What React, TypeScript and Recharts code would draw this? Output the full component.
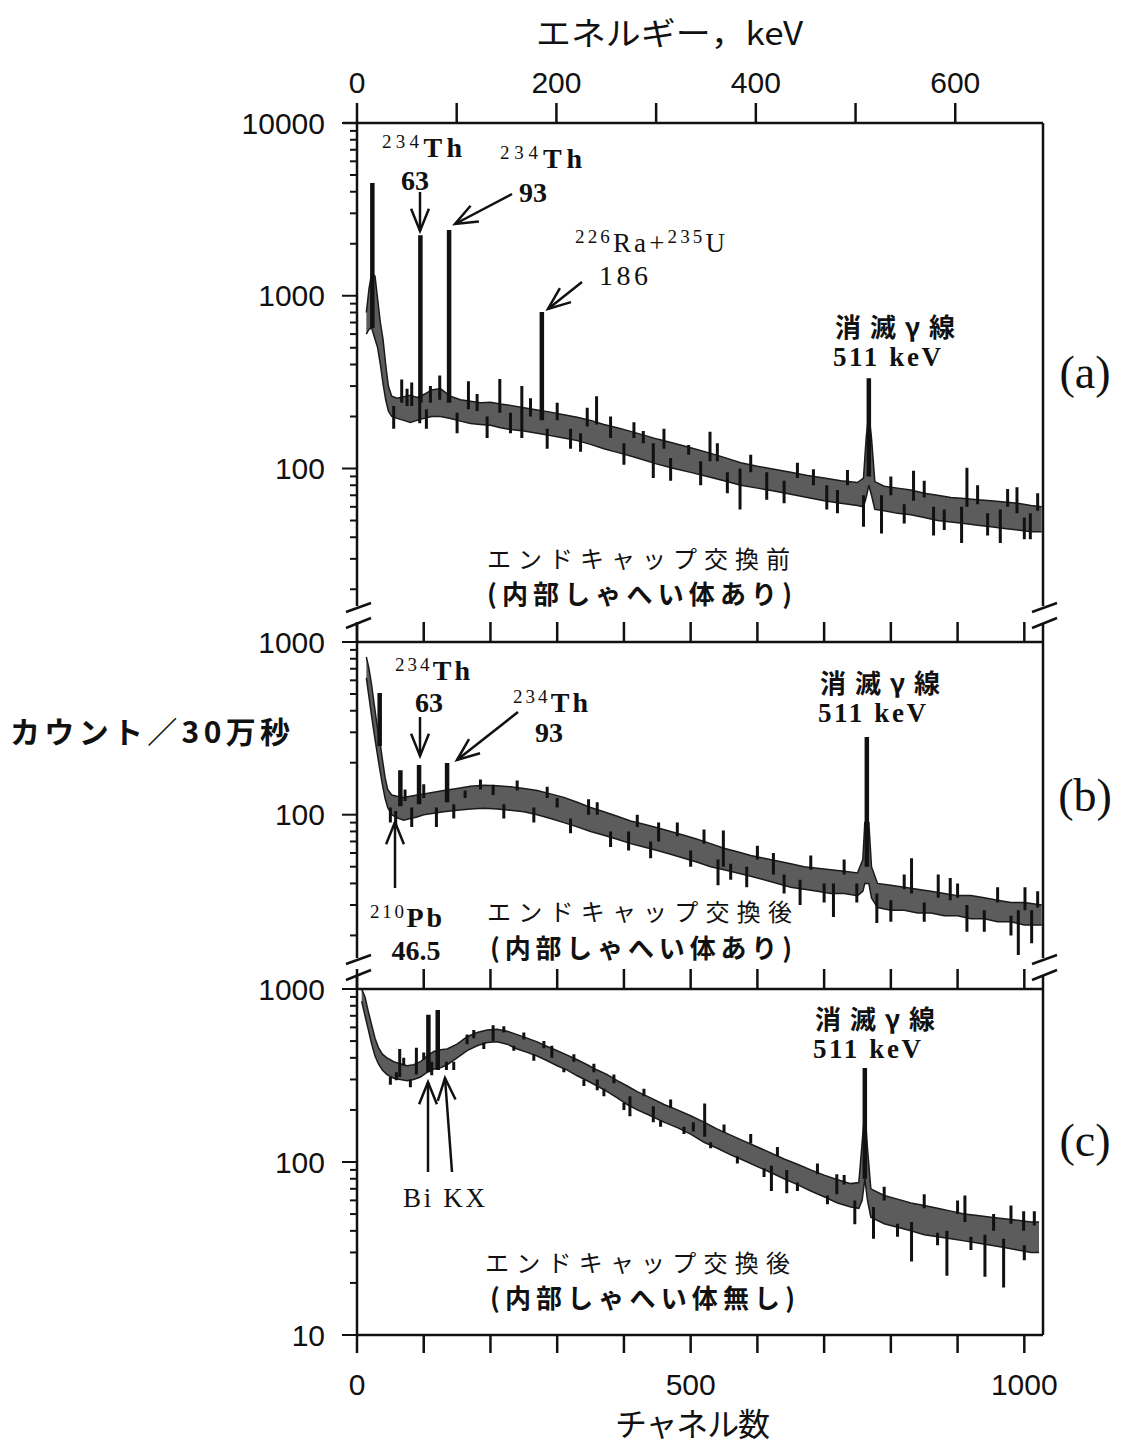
import React from "react";
import { Area, ComposedChart, Line, XAxis, YAxis } from "recharts";

const NUM_FONT = "'Liberation Sans', Arial, sans-serif";
const SERIF = "'Liberation Serif', 'Noto Sans CJK JP', serif";
const JP = "'Noto Sans CJK JP', sans-serif";
const INK = "#111";
const W = 1139;

// axis ticks
const channelTicks = [0, 100, 200, 300, 400, 500, 600, 700, 800, 900, 1000];
const channelLabels = [0, 500, 1000];
const energyTicks = [0, 100, 200, 300, 400, 500, 600];
const energyLabels = [0, 200, 400, 600];
const ticksA = [20, 30, 40, 50, 60, 70, 80, 90, 100, 200, 300, 400, 500, 600, 700, 800, 900, 1000, 2000, 3000, 4000, 5000, 6000, 7000, 8000, 9000, 10000];
const ticksB = [20, 30, 40, 50, 60, 70, 80, 90, 100, 200, 300, 400, 500, 600, 700, 800, 900, 1000];
const ticksC = [10, 20, 30, 40, 50, 60, 70, 80, 90, 100, 200, 300, 400, 500, 600, 700, 800, 900, 1000];

// (a) before end-cap exchange: [channel, low, high] of the noisy band
const bandA = [
  [14, 600, 800], [18, 640, 1100], [22, 650, 1350], [27, 560, 1300], [31, 500, 950],
  [35, 400, 700], [39, 310, 560], [43, 250, 400], [47, 215, 300], [52, 200, 262],
  [60, 195, 255], [70, 190, 260], [80, 185, 265], [90, 190, 258], [100, 195, 268],
  [112, 200, 285], [125, 200, 290], [140, 195, 262], [155, 188, 250], [170, 182, 245],
  [185, 180, 240], [200, 178, 242], [215, 172, 236], [230, 168, 232], [250, 165, 225],
  [270, 160, 218], [290, 155, 212], [310, 150, 205], [330, 145, 198], [350, 138, 190],
  [370, 130, 180], [390, 124, 172], [410, 118, 164], [430, 112, 156], [450, 106, 148],
  [475, 100, 140], [500, 95, 132], [525, 90, 124], [550, 85, 116], [575, 80, 108],
  [600, 77, 103], [625, 74, 99], [650, 71, 95], [675, 68, 91], [700, 65, 88],
  [725, 63, 85], [750, 61, 83], [759, 60, 88], [763, 68, 150], [767, 80, 210],
  [771, 70, 150], [776, 58, 84], [790, 57, 79], [810, 55, 77], [830, 54, 75],
  [850, 52, 72], [870, 50, 70], [890, 49, 68], [910, 48, 67], [930, 47, 66],
  [950, 46, 65], [970, 45, 64], [990, 44, 63], [1010, 43, 61], [1026, 43, 60],
];
const peaksA = [[23, 650, 4500], [95, 240, 2240], [138, 240, 2400], [277, 190, 805], [767, 90, 333]];
const spikesA = [
  [67, 240, 328], [82, 230, 315], [124, 250, 345], [167, 220, 320], [214, 210, 330],
  [247, 150, 300], [359, 180, 262], [429, 140, 165], [497, 120, 137], [529, 110, 163],
  [684, 80, 99], [834, 65, 97], [914, 60, 101], [989, 55, 78],
  [94, 183, 240], [230, 160, 210], [320, 130, 170], [444, 88, 140], [574, 58, 100],
  [614, 66, 95], [704, 58, 80], [759, 46, 70], [786, 42, 70], [864, 41, 60],
  [906, 37, 60], [964, 37, 58], [1009, 39, 55],
  [55, 170, 230], [75, 230, 290], [104, 170, 220], [110, 240, 300], [150, 160, 210],
  [180, 215, 270], [195, 150, 200], [260, 200, 255], [285, 130, 170], [300, 190, 240],
  [335, 125, 160], [345, 175, 225], [380, 150, 200], [400, 105, 140], [415, 150, 185],
  [460, 130, 170], [470, 85, 115], [515, 80, 110], [540, 110, 140], [555, 72, 95],
  [590, 95, 120], [640, 63, 85], [660, 88, 108], [720, 55, 75], [735, 80, 98],
  [800, 70, 90], [820, 48, 62], [850, 68, 85], [880, 44, 58], [930, 62, 80],
  [945, 41, 55], [975, 60, 76], [1000, 39, 52], [1020, 57, 72],
];

// (b) after exchange, inner shield present
const bandB = [
  [14, 620, 820], [18, 480, 700], [22, 370, 560], [26, 290, 430], [30, 230, 330],
  [34, 185, 270], [38, 150, 210], [42, 125, 165], [46, 110, 140], [52, 100, 130],
  [60, 96, 128], [70, 93, 126], [80, 95, 128], [90, 97, 130], [100, 100, 132],
  [115, 102, 135], [130, 104, 138], [150, 106, 142], [170, 108, 146], [190, 109, 148],
  [210, 108, 147], [230, 106, 145], [250, 104, 142], [270, 100, 138], [290, 95, 132],
  [310, 90, 126], [330, 85, 118], [350, 80, 110], [370, 76, 104], [390, 72, 98],
  [410, 68, 92], [430, 65, 88], [450, 62, 84], [470, 59, 80], [490, 56, 76],
  [510, 53, 72], [530, 50, 68], [550, 48, 64], [570, 46, 61], [590, 44, 58],
  [610, 42, 56], [630, 40, 54], [650, 38, 52], [670, 37, 50], [690, 36, 49],
  [710, 35, 48], [730, 35, 47], [750, 34, 46], [758, 36, 55], [761, 40, 90],
  [767, 40, 90], [771, 33, 50], [780, 29, 40], [800, 28, 39], [820, 28, 38],
  [840, 27, 37], [860, 27, 36], [880, 26, 35], [900, 26, 34], [920, 25, 34],
  [940, 25, 33], [960, 24, 32], [980, 24, 31], [1000, 23, 31], [1026, 23, 30],
];
const peaksB = [[34, 250, 507], [65, 112, 181], [93, 115, 194], [135, 118, 199], [764, 50, 282]];
const spikesB = [
  [162, 125, 138], [204, 130, 149], [300, 110, 125], [347, 100, 123], [452, 70, 90],
  [549, 50, 81], [624, 45, 60], [831, 35, 56], [871, 33, 45], [889, 32, 43], [1001, 28, 38],
  [50, 90, 110], [82, 85, 110], [119, 85, 110], [407, 62, 80], [541, 39, 55],
  [584, 38, 50], [664, 30, 42], [714, 25.6, 40], [749, 31, 40], [779, 23.6, 35],
  [914, 21, 30], [991, 15.4, 28], [1011, 18, 28],
  [58, 85, 105], [72, 120, 140], [100, 125, 150], [145, 95, 115], [185, 140, 160],
  [220, 95, 115], [240, 138, 158], [265, 90, 110], [285, 125, 145], [320, 78, 95],
  [360, 100, 118], [380, 65, 80], [420, 85, 100], [440, 56, 70], [480, 75, 90],
  [500, 50, 62], [520, 68, 82], [560, 42, 52], [600, 55, 66], [640, 35, 45],
  [680, 48, 58], [700, 31, 40], [730, 45, 55], [800, 24, 32], [820, 37, 45],
  [850, 24, 31], [900, 33, 40], [940, 21, 28], [960, 31, 38], [980, 20, 26], [1020, 29, 36],
];

// (c) after exchange, no inner shield
const bandC = [
  [7, 850, 1000], [12, 700, 900], [17, 580, 740], [22, 480, 620], [27, 410, 520],
  [32, 370, 460], [38, 340, 420], [45, 320, 400], [55, 305, 380], [65, 300, 370],
  [75, 295, 360], [85, 300, 365], [95, 310, 380], [105, 330, 410], [115, 345, 435],
  [125, 350, 445], [135, 365, 450], [150, 400, 480], [165, 440, 530], [180, 470, 560],
  [195, 490, 580], [210, 495, 585], [225, 480, 570], [240, 450, 545], [255, 430, 520],
  [270, 410, 495], [285, 385, 465], [300, 360, 440], [315, 340, 415], [330, 315, 390],
  [345, 295, 365], [360, 275, 340], [375, 255, 320], [390, 235, 295], [405, 215, 275],
  [420, 200, 255], [440, 185, 235], [460, 170, 215], [480, 158, 200], [500, 145, 185],
  [520, 130, 170], [540, 120, 155], [560, 110, 143], [580, 102, 132], [600, 94, 122],
  [620, 87, 113], [640, 80, 104], [660, 74, 97], [680, 68, 90], [700, 63, 84],
  [720, 58, 79], [740, 55, 75], [752, 54, 76], [757, 60, 130], [761, 80, 200],
  [765, 60, 120], [770, 48, 70], [790, 44, 64], [810, 42, 61], [830, 40, 58],
  [850, 38, 56], [870, 37, 54], [890, 36, 52], [910, 35, 50], [930, 34, 49],
  [950, 33, 48], [970, 32, 47], [990, 31, 46], [1010, 30, 45], [1022, 30, 45],
];
const peaksC = [[107, 330, 710], [121, 340, 755], [761, 80, 349]];
const spikesC = [
  [64, 310, 450], [89, 320, 458], [165, 480, 545], [204, 500, 618], [292, 400, 470],
  [521, 140, 218], [719, 65, 85], [911, 45, 64], [954, 40, 50], [999, 40, 52],
  [59, 297, 330], [112, 317, 380], [134, 340, 380], [360, 260, 300], [409, 184, 240],
  [444, 170, 210], [504, 150, 170], [621, 68, 95], [644, 66, 90], [746, 43.6, 60],
  [774, 36, 55], [831, 26.6, 45], [884, 22, 40], [941, 21.7, 38], [969, 18.8, 36],
  [50, 280, 310], [70, 360, 400], [80, 270, 300], [100, 390, 430], [145, 340, 380],
  [175, 520, 580], [190, 450, 490], [220, 560, 610], [235, 440, 470], [250, 510, 560],
  [265, 385, 420], [280, 455, 500], [310, 330, 350], [325, 380, 420], [340, 275, 300],
  [355, 330, 370], [370, 240, 265], [385, 285, 320], [400, 200, 220], [430, 240, 265],
  [455, 160, 175], [470, 205, 230], [490, 145, 160], [530, 120, 130], [550, 148, 165],
  [570, 98, 108], [590, 128, 145], [610, 82, 92], [630, 108, 122], [660, 68, 76],
  [690, 85, 98], [705, 57, 64], [730, 74, 84], [790, 60, 72], [810, 37, 44],
  [850, 54, 65], [870, 33, 39], [900, 50, 60], [920, 31, 37], [980, 44, 56],
  [1000, 27, 33], [1015, 43, 52],
];

const toBand = (rows: number[][]) => rows.map(([ch, lo, hi]) => ({ ch, band: [lo, hi] }));
const toSticks = (rows: number[][]) =>
  rows.flatMap(([ch, lo, hi]) => [{ ch, v: lo }, { ch, v: hi }, { ch, v: null }]);

function YTick(props: any) {
  const { x, y, payload } = props;
  const v = payload.value;
  const lg = Math.log10(v);
  const major = Math.abs(lg - Math.round(lg)) < 1e-6;
  return (
    <g>
      <line x1={x - (major ? 15 : 7)} x2={x} y1={y} y2={y} stroke={INK} strokeWidth={2} />
      {major && (
        <text x={x - 32} y={y} textAnchor="end" dominantBaseline="central" fontSize={30} fontFamily={NUM_FONT} fill={INK}>
          {v}
        </text>
      )}
    </g>
  );
}

const axisStroke = { stroke: INK, strokeWidth: 2.5 };

interface PanelProps {
  top: number;
  height: number;
  mTop: number;
  mBottom: number;
  domain: [number, number];
  yTicks: number[];
  band: number[][];
  peaks: number[][];
  spikes: number[][];
  topAxis: "keV" | "ch";
  bottomAxis?: boolean;
}

// axes need a size of at least 1px to be drawn, so margins are 1px smaller
function Panel({ top, height, mTop, mBottom, domain, yTicks, band, peaks, spikes, topAxis, bottomAxis }: PanelProps) {
  return (
    <div style={{ position: "absolute", left: 0, top, width: W, height }}>
      <ComposedChart
        width={W}
        height={height}
        data={toBand(band)}
        margin={{ top: mTop - 1, right: 95, bottom: bottomAxis ? mBottom - 1 : mBottom, left: 356 }}
      >
        <XAxis xAxisId="ch" type="number" dataKey="ch" domain={[0, 1028]} allowDataOverflow hide />
        {topAxis === "keV" ? (
          <XAxis
            xAxisId="top"
            orientation="top"
            type="number"
            dataKey="ch"
            domain={[0, 688]}
            allowDataOverflow
            ticks={energyTicks}
            interval={0}
            height={1}
            tickSize={20}
            tickMargin={10}
            tickFormatter={(v: number) => (energyLabels.includes(v) ? String(v) : "")}
            tick={{ fontSize: 30, fill: INK, fontFamily: NUM_FONT }}
            axisLine={axisStroke}
            tickLine={axisStroke}
          />
        ) : (
          <XAxis
            xAxisId="top"
            orientation="top"
            type="number"
            dataKey="ch"
            domain={[0, 1028]}
            allowDataOverflow
            ticks={channelTicks}
            interval={0}
            height={1}
            tickSize={20}
            tickFormatter={() => ""}
            axisLine={axisStroke}
            tickLine={axisStroke}
          />
        )}
        {bottomAxis && (
          <XAxis
            xAxisId="bottom"
            orientation="bottom"
            type="number"
            dataKey="ch"
            domain={[0, 1028]}
            allowDataOverflow
            ticks={channelTicks}
            interval={0}
            height={1}
            tickSize={18}
            tickMargin={21}
            tickFormatter={(v: number) => (channelLabels.includes(v) ? String(v) : "")}
            tick={{ fontSize: 30, fill: INK, fontFamily: NUM_FONT }}
            axisLine={axisStroke}
            tickLine={axisStroke}
          />
        )}
        <YAxis
          yAxisId="l"
          scale="log"
          type="number"
          domain={domain}
          allowDataOverflow
          ticks={yTicks}
          interval={0}
          width={1}
          tickSize={0}
          tickMargin={0}
          tickLine={false}
          tick={<YTick />}
          axisLine={axisStroke}
        />
        <YAxis
          yAxisId="r"
          orientation="right"
          scale="log"
          type="number"
          domain={domain}
          allowDataOverflow
          width={1}
          tick={false}
          tickLine={false}
          axisLine={axisStroke}
        />
        <Area
          xAxisId="ch"
          yAxisId="l"
          dataKey="band"
          type="linear"
          fill="#5c5c5c"
          fillOpacity={1}
          stroke="#1a1a1a"
          strokeWidth={1.5}
          isAnimationActive={false}
        />
        <Line
          xAxisId="ch"
          yAxisId="l"
          data={toSticks(spikes)}
          dataKey="v"
          stroke={INK}
          strokeWidth={3}
          dot={false}
          connectNulls={false}
          isAnimationActive={false}
        />
        <Line
          xAxisId="ch"
          yAxisId="l"
          data={toSticks(peaks)}
          dataKey="v"
          stroke={INK}
          strokeWidth={4.5}
          dot={false}
          connectNulls={false}
          isAnimationActive={false}
        />
      </ComposedChart>
    </div>
  );
}

function Arrow({ x1, y1, x2, y2 }: { x1: number; y1: number; x2: number; y2: number }) {
  const a = Math.atan2(y2 - y1, x2 - x1);
  const L = 24;
  const s = 0.38;
  return (
    <g stroke={INK} strokeWidth={2.5} fill="none">
      <line x1={x1} y1={y1} x2={x2} y2={y2} />
      <polyline
        points={`${x2 - L * Math.cos(a - s)},${y2 - L * Math.sin(a - s)} ${x2},${y2} ${x2 - L * Math.cos(a + s)},${y2 - L * Math.sin(a + s)}`}
      />
    </g>
  );
}

function BreakMark({ x, y, next }: { x: number; y: number; next: number }) {
  return (
    <g stroke={INK} strokeWidth={2.5}>
      <line x1={x - 11} y1={y + 6} x2={x + 14} y2={y - 3} />
      <line x1={x - 11} y1={y + 22} x2={x + 14} y2={y + 12} />
      <line x1={x} y1={y + 17} x2={x} y2={next} />
    </g>
  );
}

function Iso({ x, y, mass, sym, len }: { x: number; y: number; mass: string; sym: string; len: number }) {
  return (
    <text x={x} y={y} fontFamily={SERIF} fill={INK} textLength={len} lengthAdjust="spacing">
      <tspan fontSize={19} dy={-9}>{mass}</tspan>
      <tspan fontSize={28} dy={9} fontWeight={700}>{sym}</tspan>
    </text>
  );
}

function Annihilation({ x, y }: { x: number; y: number }) {
  return (
    <g fill={INK}>
      <text x={x} y={y} fontFamily={JP} fontSize={26} fontWeight={700} textLength={120} lengthAdjust="spacing">消滅γ線</text>
      <text x={x - 2} y={y + 29} fontFamily={SERIF} fontSize={27} fontWeight={700} textLength={108} lengthAdjust="spacing">511 keV</text>
    </g>
  );
}

function Overlay() {
  return (
    <svg width={W} height={1447} style={{ position: "absolute", left: 0, top: 0, pointerEvents: "none" }}>
      <line x1={343} y1={123} x2={357} y2={123} stroke={INK} strokeWidth={2.5} />
      <BreakMark x={357} y={606} next={642} />
      <BreakMark x={1043} y={606} next={642} />
      <BreakMark x={357} y={958} next={989} />
      <BreakMark x={1043} y={958} next={989} />

      <text x={536} y={45} fontFamily={JP} fontSize={32} fill={INK} textLength={267} lengthAdjust="spacingAndGlyphs">エネルギー，keV</text>
      <text x={10} y={743} fontFamily={JP} fontSize={30} fontWeight={700} fill={INK} textLength={280} lengthAdjust="spacing">カウント／30万秒</text>
      <text x={615} y={1436} fontFamily={SERIF} fontSize={32} fill={INK} textLength={155} lengthAdjust="spacing">チャネル数</text>

      <g fontFamily={SERIF} fontSize={46} fill={INK} textAnchor="middle" dominantBaseline="central">
        <text x={1085} y={372}>(a)</text>
        <text x={1085} y={795}>(b)</text>
        <text x={1085} y={1140}>(c)</text>
      </g>

      {/* (a) */}
      <Iso x={382} y={157} mass="234" sym="Th" len={80} />
      <text x={415} y={190} textAnchor="middle" fontFamily={SERIF} fontSize={28} fontWeight={700} fill={INK}>63</text>
      <Arrow x1={420} y1={192} x2={420} y2={231} />
      <Iso x={500} y={168} mass="234" sym="Th" len={82} />
      <text x={533} y={202} textAnchor="middle" fontFamily={SERIF} fontSize={28} fontWeight={700} fill={INK}>93</text>
      <Arrow x1={512} y1={194} x2={455} y2={224} />
      <text x={575} y={252} fontFamily={SERIF} fill={INK} textLength={150} lengthAdjust="spacing">
        <tspan fontSize={19} dy={-9}>226</tspan>
        <tspan fontSize={27} dy={9}>Ra+</tspan>
        <tspan fontSize={19} dy={-9}>235</tspan>
        <tspan fontSize={27} dy={9}>U</tspan>
      </text>
      <text x={599} y={285} fontFamily={SERIF} fontSize={28} fill={INK} textLength={49} lengthAdjust="spacing">186</text>
      <Arrow x1={582} y1={282} x2={548} y2={309} />
      <Annihilation x={835} y={337} />
      <text x={487} y={568} fontFamily={JP} fontSize={24} fill={INK} textLength={303} lengthAdjust="spacing">エンドキャップ交換前</text>
      <text x={487} y={604} fontFamily={JP} fontSize={26} fontWeight={700} fill={INK} textLength={305} lengthAdjust="spacing">(内部しゃへい体あり)</text>

      {/* (b) */}
      <Iso x={395} y={680} mass="234" sym="Th" len={75} />
      <text x={429} y={712} textAnchor="middle" fontFamily={SERIF} fontSize={28} fontWeight={700} fill={INK}>63</text>
      <Arrow x1={420} y1={717} x2={420} y2={756} />
      <Iso x={513} y={712} mass="234" sym="Th" len={75} />
      <text x={549} y={742} textAnchor="middle" fontFamily={SERIF} fontSize={28} fontWeight={700} fill={INK}>93</text>
      <Arrow x1={518} y1={712} x2={457} y2={760} />
      <Iso x={370} y={927} mass="210" sym="Pb" len={72} />
      <text x={416} y={960} textAnchor="middle" fontFamily={SERIF} fontSize={28} fontWeight={700} fill={INK}>46.5</text>
      <Arrow x1={395} y1={888} x2={395} y2={822} />
      <Annihilation x={820} y={693} />
      <text x={487} y={921} fontFamily={JP} fontSize={24} fill={INK} textLength={305} lengthAdjust="spacing">エンドキャップ交換後</text>
      <text x={490} y={958} fontFamily={JP} fontSize={26} fontWeight={700} fill={INK} textLength={302} lengthAdjust="spacing">(内部しゃへい体あり)</text>

      {/* (c) */}
      <Arrow x1={428} y1={1172} x2={428} y2={1082} />
      <Arrow x1={452} y1={1172} x2={445} y2={1078} />
      <text x={403} y={1207} fontFamily={SERIF} fontSize={27} fill={INK} textLength={82} lengthAdjust="spacing">Bi KX</text>
      <Annihilation x={815} y={1029} />
      <text x={485} y={1272} fontFamily={JP} fontSize={24} fill={INK} textLength={305} lengthAdjust="spacing">エンドキャップ交換後</text>
      <text x={490} y={1308} fontFamily={JP} fontSize={26} fontWeight={700} fill={INK} textLength={305} lengthAdjust="spacing">(内部しゃへい体無し)</text>
    </svg>
  );
}

export default function App() {
  return (
    <div style={{ position: "absolute", left: 0, top: 0, width: W, height: 1447, background: "#fff" }}>
      <Panel top={0} height={620} mTop={123} mBottom={14} domain={[16, 10000]} yTicks={ticksA}
        band={bandA} peaks={peaksA} spikes={spikesA} topAxis="keV" />
      <Panel top={600} height={400} mTop={42} mBottom={42} domain={[14.8, 1000]} yTicks={ticksB}
        band={bandB} peaks={peaksB} spikes={spikesB} topAxis="ch" />
      <Panel top={960} height={487} mTop={29} mBottom={112} domain={[10, 1000]} yTicks={ticksC}
        band={bandC} peaks={peaksC} spikes={spikesC} topAxis="ch" bottomAxis />
      <Overlay />
    </div>
  );
}
